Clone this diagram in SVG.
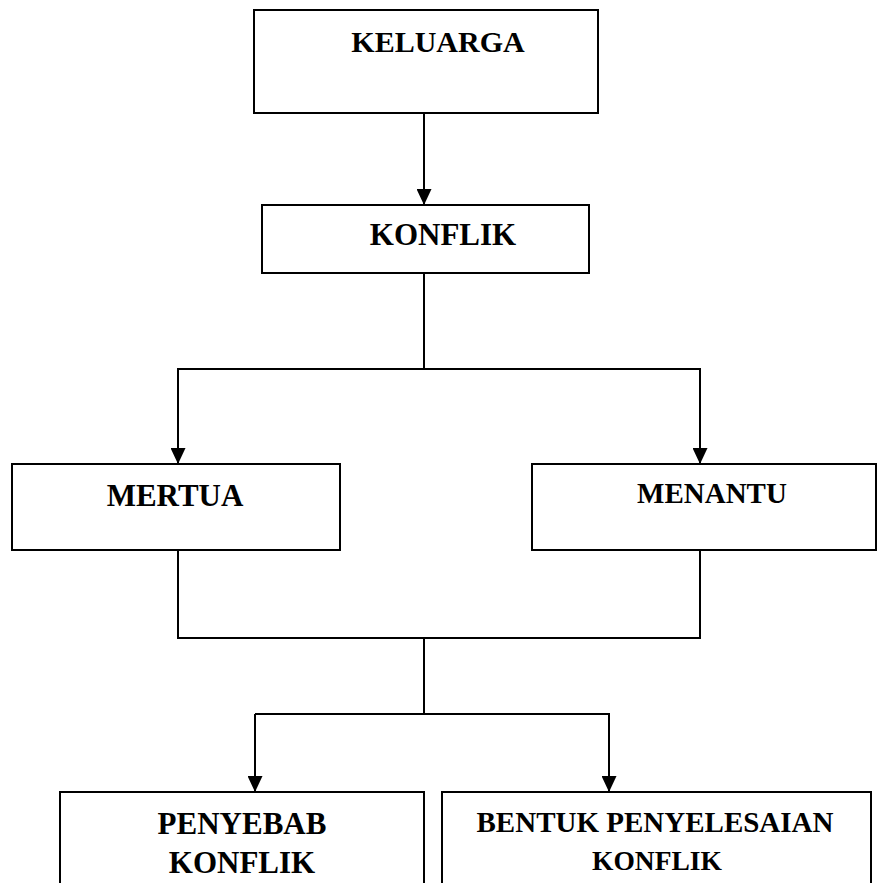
<svg xmlns="http://www.w3.org/2000/svg" width="878" height="883" viewBox="0 0 878 883">
<style>
.box{fill:#fff;stroke:#000;stroke-width:2}
.lbl{font-family:"Liberation Serif","Times New Roman",serif;font-weight:bold;text-anchor:middle;fill:#000}
.ln{fill:none;stroke:#000;stroke-width:2}
</style>
<defs>
<marker id="ah" markerUnits="userSpaceOnUse" markerWidth="16" markerHeight="15" refX="16" refY="7.5" orient="auto">
<path d="M0,0 L16,7.5 L0,15 z" fill="#000"/>
</marker>
</defs>
<rect width="878" height="883" fill="#fff"/>
<g id="connectors">
<line class="ln" x1="424" y1="113" x2="424" y2="205" marker-end="url(#ah)"/>
<polyline class="ln" points="424,273 424,369"/>
<polyline class="ln" points="178,464 178,369 700,369 700,464" marker-end="url(#ah)"/>
<line class="ln" x1="178" y1="369" x2="178" y2="464" marker-end="url(#ah)"/>
<polyline class="ln" points="178,550 178,638 700,638 700,550"/>
<polyline class="ln" points="424,638 424,714"/>
<polyline class="ln" points="255,714 609,714 609,792" marker-end="url(#ah)"/>
<line class="ln" x1="255" y1="714" x2="255" y2="792" marker-end="url(#ah)"/>
</g>
<g id="keluarga">
<rect class="box" x="254" y="10" width="344" height="103"/>
<text class="lbl" x="438" y="52" font-size="30">KELUARGA</text>
</g>
<g id="konflik">
<rect class="box" x="262" y="205" width="327" height="68"/>
<text class="lbl" x="443" y="245" font-size="31">KONFLIK</text>
</g>
<g id="mertua">
<rect class="box" x="12" y="464" width="328" height="86"/>
<text class="lbl" x="175" y="506" font-size="31">MERTUA</text>
</g>
<g id="menantu">
<rect class="box" x="532" y="464" width="344" height="86"/>
<text class="lbl" x="712" y="503" font-size="29">MENANTU</text>
</g>
<g id="penyebab">
<rect class="box" x="60" y="792" width="364" height="100"/>
<text class="lbl" x="242" y="834" font-size="31">PENYEBAB</text>
<text class="lbl" x="242" y="873" font-size="31">KONFLIK</text>
</g>
<g id="bentuk">
<rect class="box" x="442" y="792" width="429" height="100"/>
<text class="lbl" x="655" y="832" font-size="29">BENTUK PENYELESAIAN</text>
<text class="lbl" x="657" y="870" font-size="27.5">KONFLIK</text>
</g>
</svg>
